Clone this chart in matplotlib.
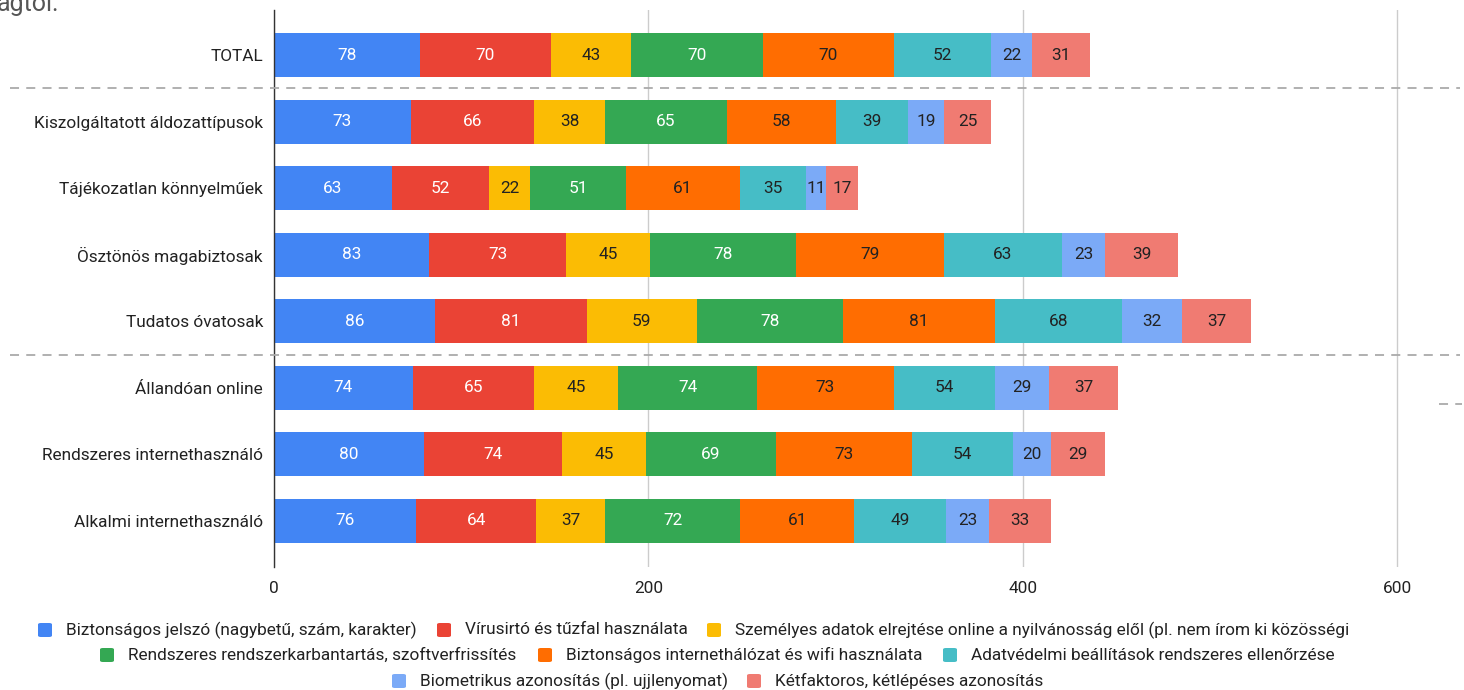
import matplotlib
matplotlib.use("Agg")
import matplotlib.pyplot as plt
from matplotlib.patches import FancyBboxPatch
import numpy as np

plt.rcParams['font.family'] = ['Roboto', 'DejaVu Sans']

categories = ["TOTAL", "Kiszolgáltatott áldozattípusok", "Tájékozatlan könnyelműek",
              "Ösztönös magabiztosak", "Tudatos óvatosak", "Állandóan online",
              "Rendszeres internethasználó", "Alkalmi internethasználó"]

series_names = ["Biztonságos jelszó (nagybetű, szám, karakter)",
                "Vírusirtó és tűzfal használata",
                "Személyes adatok elrejtése online a nyilvánosság elől (pl. nem írom ki közösségi",
                "Rendszeres rendszerkarbantartás, szoftverfrissítés",
                "Biztonságos internethálózat és wifi használata",
                "Adatvédelmi beállítások rendszeres ellenőrzése",
                "Biometrikus azonosítás (pl. ujjlenyomat)",
                "Kétfaktoros, kétlépéses azonosítás"]

jelszo     = [78, 73, 63, 83, 86, 74, 80, 76]
virusirto  = [70, 66, 52, 73, 81, 65, 74, 64]
szemelyes  = [43, 38, 22, 45, 59, 45, 45, 37]
karbantart = [70, 65, 51, 78, 78, 74, 69, 72]
wifi       = [70, 58, 61, 79, 81, 73, 73, 61]
adatved    = [52, 39, 35, 63, 68, 54, 54, 49]
biometrik  = [22, 19, 11, 23, 32, 29, 20, 23]
ketfaktor  = [31, 25, 17, 39, 37, 37, 29, 33]

series = [jelszo, virusirto, szemelyes, karbantart, wifi, adatved, biometrik, ketfaktor]
colors = ["#4285F4", "#EA4335", "#FBBC04", "#34A853", "#FF6D01", "#46BDC6", "#7BAAF7", "#F07B72"]
label_colors = ["white", "white", "#222222", "white", "#222222", "#222222", "#222222", "#222222"]

xticks = [0, 200, 400, 600]

FS = 12.4
W, H = 1464, 690
fig = plt.figure(figsize=(W / 100, H / 100), dpi=100)
ax_left, ax_right, ax_top, ax_bot = 274, 1460, 10, 567
ax = fig.add_axes([ax_left / W, 1 - ax_bot / H, (ax_right - ax_left) / W, (ax_bot - ax_top) / H])

px_per_unit = (1397 - 274) / 600
ax.set_xlim(0, (ax_right - ax_left) / px_per_unit)
spacing = 66.57
ax.set_ylim(7 + (567 - 521) / spacing, -(55 - 10) / spacing)

y = np.arange(len(categories))
left = np.zeros(len(categories))
for vals, col, lc in zip(series, colors, label_colors):
    vals = np.array(vals, dtype=float)
    ax.barh(y, vals, left=left, height=0.66, color=col, zorder=3, linewidth=0)
    for yi, l, v in zip(y, left, vals):
        ax.text(l + v / 2, yi, f"{int(v)}", ha="center", va="center", color=lc,
                fontsize=FS, zorder=4)
    left += vals

ax.set_yticks(y)
ax.set_yticklabels(categories, fontsize=FS, color="#222222")
ax.set_xticks(xticks)
ax.set_xticklabels([str(t) for t in xticks], fontsize=FS, color="#222222")
ax.tick_params(axis="both", length=0)
ax.tick_params(axis="y", pad=8)
ax.tick_params(axis="x", pad=10)
ax.grid(axis="x", color="#cccccc", linewidth=1, zorder=0)
for s in ["top", "right", "bottom"]:
    ax.spines[s].set_visible(False)
ax.spines["left"].set_color("#333333")
ax.spines["left"].set_linewidth(1)
ax.spines["left"].set_zorder(5)

# dashed separators (figure coordinates)
for yp in [88, 355]:
    fig.add_artist(plt.Line2D([10 / W, 1460 / W], [1 - yp / H, 1 - yp / H],
                              color="#aaaaaa", linestyle=(0, (5, 4)), linewidth=1.3, zorder=1))
fig.add_artist(plt.Line2D([1439 / W, 1462 / W], [1 - 404 / H, 1 - 404 / H],
                          color="#aaaaaa", linestyle=(0, (5, 4)), linewidth=1.3))

# cut-off title remnant
fig.text(-3 / W, 1 - 11 / H, "ágtól.", fontsize=18, color="#555555", ha="left", va="baseline")

# legend (manual, rows centered)
legend_pos = [(38, 630), (437, 630), (707, 630),
              (100, 655), (538, 655), (943, 655),
              (392, 681), (747, 681)]
sq = 14
for (xm, ym), name, col in zip(legend_pos, series_names, colors):
    fig.add_artist(FancyBboxPatch(((xm) / W, 1 - (ym + sq / 2) / H), sq / W, sq / H,
                                  boxstyle="round,pad=0,rounding_size=0.002",
                                  transform=fig.transFigure, facecolor=col, edgecolor="none"))
    fig.text((xm + 28) / W, 1 - ym / H, name, fontsize=FS, color="#222222",
             ha="left", va="center")

fig.savefig("out.png", dpi=100)
